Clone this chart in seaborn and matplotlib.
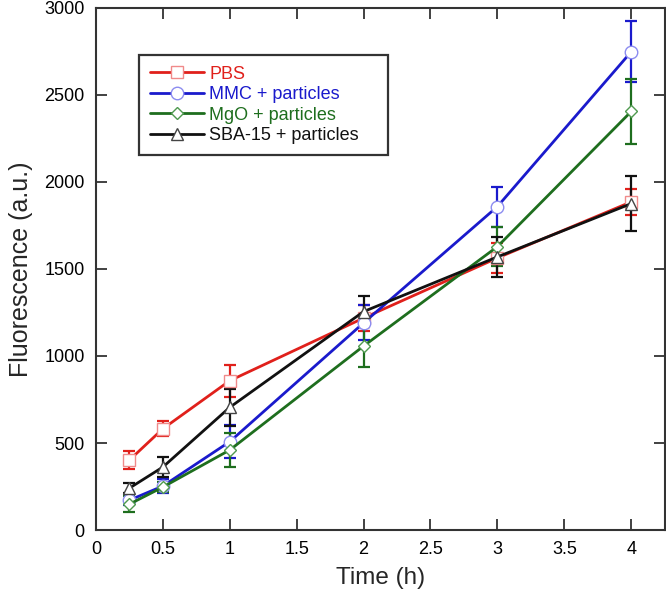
import matplotlib
matplotlib.use("Agg")
import matplotlib.pyplot as plt
import pandas as pd
import seaborn as sns

time_h = [0.25, 0.5, 1, 2, 3, 4]

series_names = ["PBS", "MMC + particles", "MgO + particles", "SBA-15 + particles"]

pbs = [402, 582, 858, 1218, 1563, 1885]
pbs_err = [50, 43, 92, 75, 85, 75]

mmc = [172, 253, 508, 1190, 1858, 2747]
mmc_err = [30, 40, 95, 100, 115, 175]

mgo = [149, 247, 460, 1057, 1628, 2404]
mgo_err = [45, 30, 100, 120, 110, 185]

sba = [241, 362, 705, 1255, 1569, 1875]
sba_err = [30, 58, 105, 90, 115, 160]

colors = ["#e0201b", "#1a1acc", "#1e6e1e", "#111111"]
edge_colors = ["#f08a8a", "#8c8cf0", "#4f9a4f", "#444444"]
markers = ["s", "o", "D", "^"]
marker_sizes = [9, 9, 6.5, 9]

sns.set_style("ticks")
plt.rcParams["font.family"] = ["Liberation Sans", "DejaVu Sans"]

values = [pbs, mmc, mgo, sba]
errors = [pbs_err, mmc_err, mgo_err, sba_err]

frames = []
for name, vals, errs in zip(series_names, values, errors):
    frames.append(pd.DataFrame({"time": time_h, "fluo": vals, "err": errs, "series": name}))
df = pd.concat(frames, ignore_index=True)

fig = plt.figure(figsize=(6.66, 5.93), dpi=100)
ax = fig.add_axes([0.144, 0.106, 0.854, 0.881])

for i, name in enumerate(series_names):
    sub = df[df["series"] == name]
    ax.errorbar(sub["time"], sub["fluo"], yerr=sub["err"], fmt="none",
                ecolor=colors[i], elinewidth=1.6, capsize=4, capthick=1.6, zorder=2)
    sns.lineplot(data=sub, x="time", y="fluo", color=colors[i], marker=markers[i],
                 markersize=marker_sizes[i], markerfacecolor="white",
                 markeredgecolor=edge_colors[i], markeredgewidth=1.0,
                 linewidth=2, label=name, ax=ax, zorder=3)

ax.set_xlim(0, 4.25)
ax.set_ylim(0, 3000)
ax.set_xticks([0, 0.5, 1, 1.5, 2, 2.5, 3, 3.5, 4])
ax.set_xticklabels(["0", "0.5", "1", "1.5", "2", "2.5", "3", "3.5", "4"])
ax.set_yticks(range(0, 3001, 500))
ax.tick_params(direction="in", length=8, width=1.3, top=True, right=True,
               labelsize=13, pad=8, colors="#333333", labelcolor="black")
for spine in ax.spines.values():
    spine.set_visible(True)
    spine.set_linewidth(1.5)
    spine.set_color("#333333")

ax.set_xlabel("Time (h)", fontsize=17.5, labelpad=6)
ax.set_ylabel("Fluorescence (a.u.)", fontsize=18, labelpad=8)

leg = ax.legend(loc="upper left", bbox_to_anchor=(0.0756, 0.0, 0.4376, 0.91),
                mode="expand", borderaxespad=0, fontsize=13,
                handlelength=3.0, frameon=True, fancybox=False, framealpha=1,
                borderpad=0.6, labelspacing=0.2, handletextpad=0.3)
leg.get_frame().set_edgecolor("#333333")
leg.get_frame().set_linewidth(1.6)
for text, c in zip(leg.get_texts(), colors):
    text.set_color(c)

fig.savefig("out.png", dpi=100)
